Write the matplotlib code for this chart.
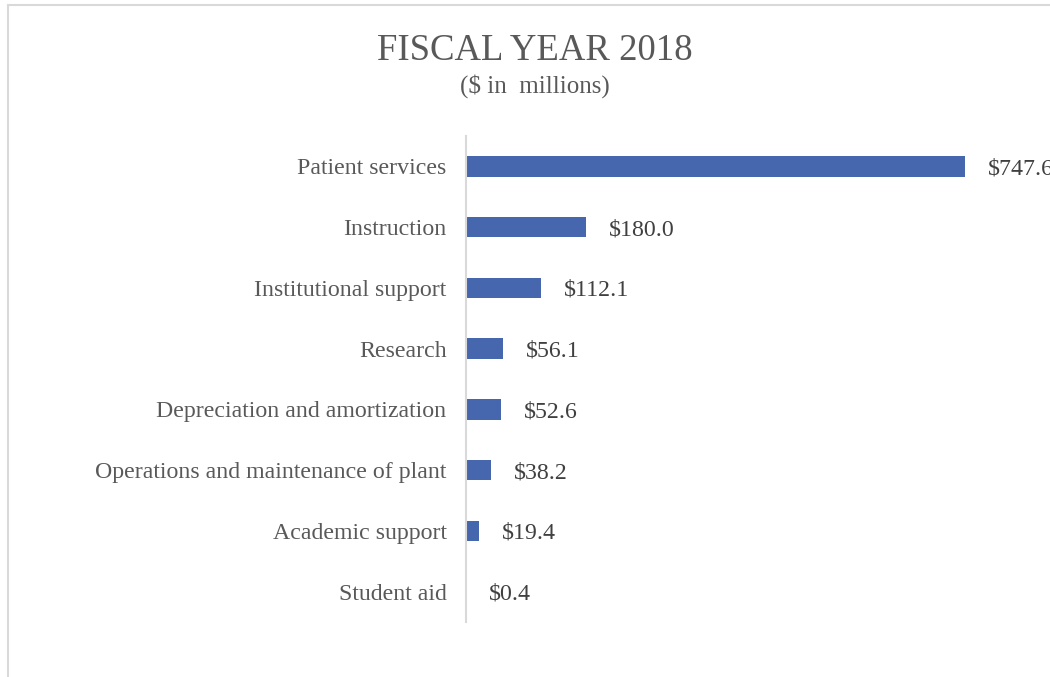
import matplotlib
matplotlib.use("Agg")
import matplotlib.pyplot as plt
from matplotlib.patches import Rectangle

# data (millions of dollars), top to bottom as in the chart
categories = ["Patient services", "Instruction", "Institutional support", "Research",
              "Depreciation and amortization", "Operations and maintenance of plant",
              "Academic support", "Student aid"]
values = [747.6, 180.0, 112.1, 56.1, 52.6, 38.2, 19.4, 0.4]
value_labels = ["$747.6", "$180.0", "$112.1", "$56.1", "$52.6", "$38.2", "$19.4", "$0.4"]

plt.rcParams['font.family'] = ['Liberation Serif', 'DejaVu Serif']

BAR = "#4666AE"
TXT = "#595959"
GRID = "#D9D9D9"

fig = plt.figure(figsize=(10.5, 6.77), dpi=100)
ax = fig.add_axes([466 / 1050, 1 - 622 / 677, 534 / 1050, 486 / 677])

y = list(range(len(categories)))
ax.barh(y, values, height=0.34, color=BAR)
ax.set_ylim(len(categories) - 0.5, -0.5)
ax.set_xlim(0, 800)

ax.set_yticks(y)
ax.set_yticklabels(categories, fontsize=17.2, color=TXT)
ax.tick_params(axis="y", length=0, pad=14)
ax.set_xticks([])

for s in ["top", "right", "bottom"]:
    ax.spines[s].set_visible(False)
ax.spines["left"].set_color(GRID)
ax.spines["left"].set_linewidth(1.5)

for yi, v, lab in zip(y, values, value_labels):
    ax.annotate(lab, (v, yi), xytext=(16.5, 0), textcoords="offset points",
                va="center_baseline", ha="left", fontsize=17.2, color="#404040")

fig.text(535 / 1050, 1 - 60 / 677, "FISCAL YEAR 2018", ha="center", va="baseline",
         fontsize=26.5, color=TXT)
fig.text(535 / 1050, 1 - 93 / 677, "($ in  millions)", ha="center", va="baseline",
         fontsize=18, color=TXT)

# light border of the chart area (right/bottom cut off in the source)
fig.add_artist(Rectangle((8 / 1050, -0.1), 1.2, 1 - 5 / 677 + 0.1,
                         transform=fig.transFigure, fill=False,
                         edgecolor=GRID, linewidth=1.5))

fig.savefig("out.png", dpi=100)
